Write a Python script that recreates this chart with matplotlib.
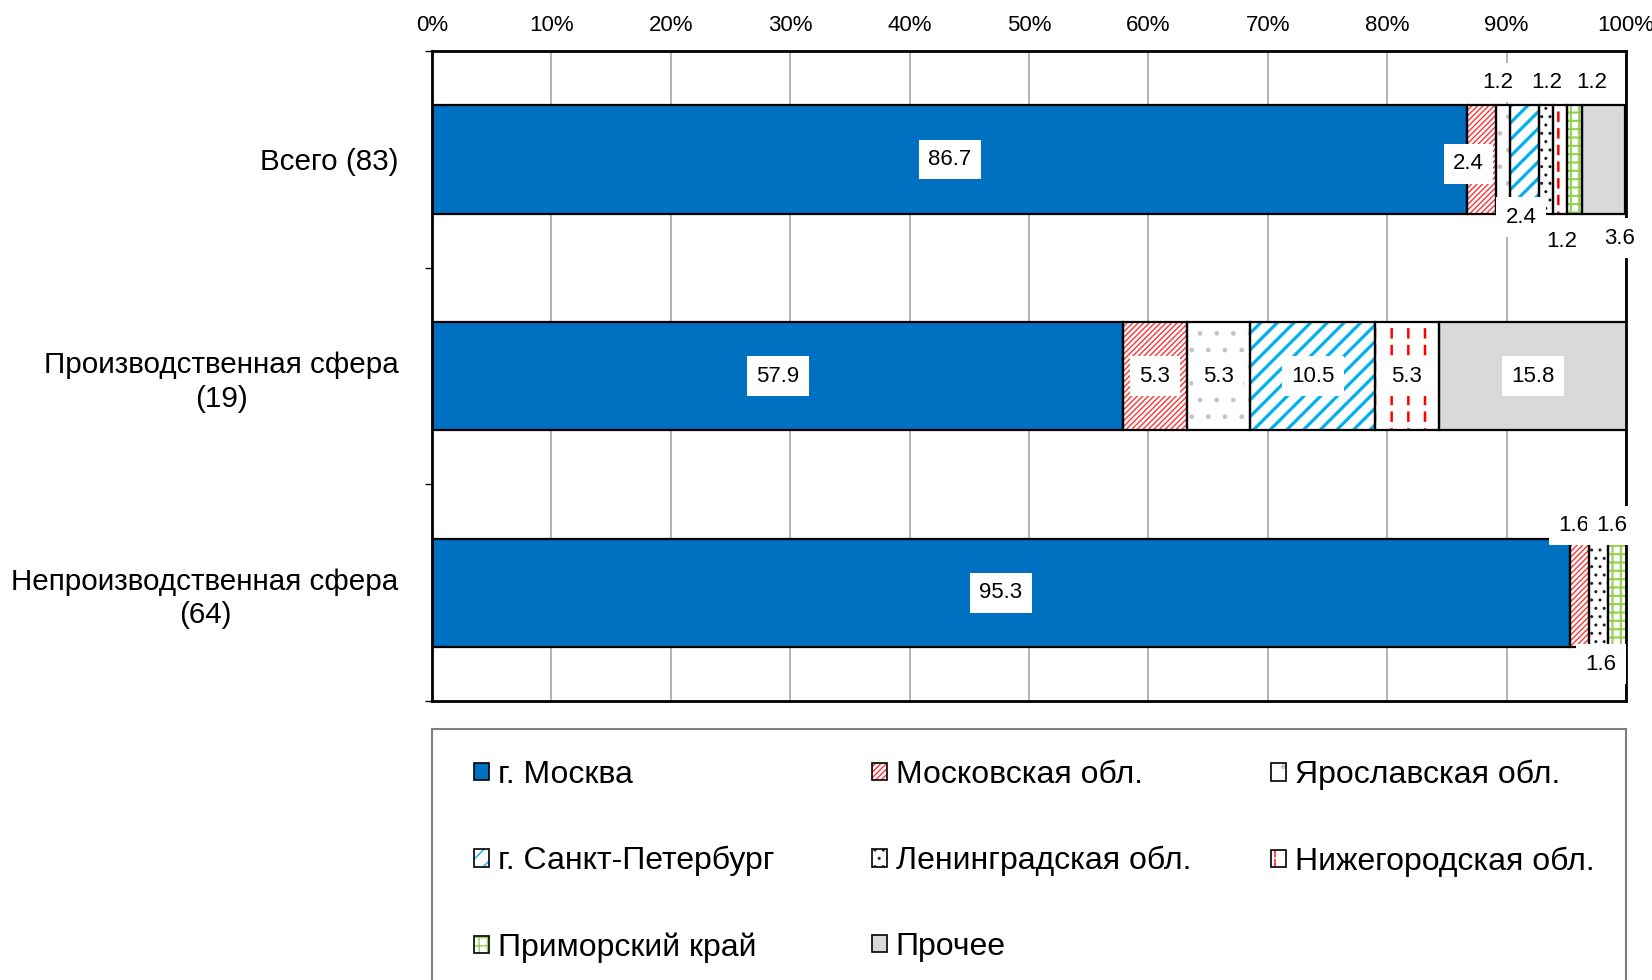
import numpy as np
import matplotlib
matplotlib.use("Agg")
import matplotlib.pyplot as plt
from matplotlib.patches import Patch, Rectangle
from matplotlib import font_manager as fm

# ---------------- data ----------------
categories = ["Всего (83)", "Производственная сфера\n(19)", "Непроизводственная сфера\n(64)"]
series_names = ["г. Москва", "Московская обл.", "Ярославская обл.", "г. Санкт-Петербург",
                "Ленинградская обл.", "Нижегородская обл.", "Приморский край", "Прочее"]
moskva = [86.7, 57.9, 95.3]
moskovskaya = [2.4, 5.3, 1.6]
yaroslavskaya = [1.2, 5.3, 0.0]
spb = [2.4, 10.5, 0.0]
leningradskaya = [1.2, 0.0, 1.6]
nizhegorodskaya = [1.2, 5.3, 0.0]
primorsky = [1.2, 0.0, 1.6]
prochee = [3.6, 15.8, 0.0]
xtick_values = [0, 10, 20, 30, 40, 50, 60, 70, 80, 90, 100]
xtick_labels = [f"{v}%" for v in xtick_values]

values = [moskva, moskovskaya, yaroslavskaya, spb, leningradskaya, nizhegorodskaya, primorsky, prochee]

# ---------------- styles ----------------
# overlay: optional white hatch drawn over the pattern (to break lines into dashes)
styles = [
    dict(face="#0070C0", hc="#0070C0", hatch=None, hlw=1.0, overlay=None),
    dict(face="white", hc="#FF3333", hatch="//////", hlw=1.0, overlay=None),
    dict(face="white", hc="#C4C4C4", hatch=".", hlw=1.0, overlay=None),
    dict(face="white", hc="#00B0F0", hatch="//", hlw=2.3, overlay=None),
    dict(face="white", hc="#202020", hatch="..", hlw=1.0, overlay=None),
    dict(face="white", hc="#FF0000", hatch="|", hlw=1.8, overlay=("-", 4.5)),
    dict(face="white", hc="#92D050", hatch="++", hlw=1.5, overlay=None),
    dict(face="#D9D9D9", hc="#D9D9D9", hatch=None, hlw=1.0, overlay=None),
]

# label offsets (category index, series index) -> (dx in %, dy in category units)
label_offsets = {
    (0, 1): (-1.1, 0.02),
    (0, 2): (-0.4, -0.354),
    (0, 3): (-0.3, 0.267),
    (0, 4): (0.1, -0.354),
    (0, 5): (0.1, 0.379),
    (0, 6): (1.4, -0.354),
    (0, 7): (1.4, 0.364),
    (2, 1): (-0.5, -0.31),
    (2, 4): (0.2, 0.33),
    (2, 6): (-0.5, -0.31),
}

avail = {f.name for f in fm.fontManager.ttflist}
main_font = "Liberation Sans" if "Liberation Sans" in avail else "DejaVu Sans"
plt.rcParams["font.family"] = [main_font, "DejaVu Sans"]


def make_patch_layers(st):
    with plt.rc_context({"hatch.linewidth": st["hlw"]}):
        hp = Patch(facecolor=st["face"], edgecolor=st["hc"], hatch=st["hatch"], linewidth=0)
        if hasattr(hp, "set_hatch_linewidth"):
            hp.set_hatch_linewidth(st["hlw"])
    layers = [hp]
    if st["overlay"] is not None:
        oh, olw = st["overlay"]
        with plt.rc_context({"hatch.linewidth": olw}):
            ov = Patch(facecolor="none", edgecolor="white", hatch=oh, linewidth=0)
            if hasattr(ov, "set_hatch_linewidth"):
                ov.set_hatch_linewidth(olw)
        layers.append(ov)
    layers.append(Patch(facecolor="none", edgecolor="black", linewidth=1.2))
    return tuple(layers)


W, H = 1652, 980
fig = plt.figure(figsize=(W / 100, H / 100), dpi=100)
ax = fig.add_axes([432 / W, 1 - 701 / H, (1626 - 432) / W, (701 - 51) / H])

y = np.arange(len(categories))
left = np.zeros(len(categories))
legend_handles = []
for si, vals in enumerate(values):
    st = styles[si]
    vals = np.array(vals, dtype=float)
    mask = vals > 0
    with plt.rc_context({"hatch.linewidth": st["hlw"]}):
        bars = ax.barh(y[mask], vals[mask], left=left[mask], height=0.5,
                       color=st["face"], edgecolor=st["hc"], hatch=st["hatch"],
                       linewidth=0, zorder=2)
        for b in bars:
            if hasattr(b, "set_hatch_linewidth"):
                b.set_hatch_linewidth(st["hlw"])
    if st["overlay"] is not None:
        oh, olw = st["overlay"]
        with plt.rc_context({"hatch.linewidth": olw}):
            obars = ax.barh(y[mask], vals[mask], left=left[mask], height=0.5,
                            facecolor="none", edgecolor="white", hatch=oh,
                            linewidth=0, zorder=2.5)
            for b in obars:
                if hasattr(b, "set_hatch_linewidth"):
                    b.set_hatch_linewidth(olw)
    ax.barh(y[mask], vals[mask], left=left[mask], height=0.5,
            facecolor="none", edgecolor="black", linewidth=1.6, zorder=3)
    for ci in np.where(mask)[0]:
        cx = left[ci] + vals[ci] / 2
        cy = y[ci]
        dx, dy = label_offsets.get((ci, si), (0, 0))
        ax.text(cx + dx, cy + dy, f"{vals[ci]:.1f}", ha="center", va="center",
                fontsize=16, zorder=5,
                bbox=dict(boxstyle="square,pad=0.42", facecolor="white", edgecolor="none"))
    left += vals
    legend_handles.append(make_patch_layers(st))

ax.set_xlim(0, 100)
ax.set_ylim(2.5, -0.5)
ax.xaxis.tick_top()
ax.set_xticks(xtick_values)
ax.set_xticklabels(xtick_labels, fontsize=16)
ax.tick_params(axis="x", length=0, pad=11)
ax.set_yticks(y)
ax.set_yticklabels(categories, fontsize=21.3)
for t in ax.get_yticklabels():
    t.set_multialignment("center")
    t.set_linespacing(1.26)
ax.tick_params(axis="y", which="major", length=0, pad=24)
ax.set_yticks([-0.5, 0.5, 1.5, 2.5], minor=True)
ax.tick_params(axis="y", which="minor", length=5, width=1, color="black")
ax.set_axisbelow(True)
ax.grid(axis="x", color="#A6A6A6", linewidth=1.2, zorder=0)
for sp in ax.spines.values():
    sp.set_linewidth(2)
    sp.set_color("black")

# legend frame
fig.patches.append(Rectangle((432 / W, -0.1), (1626 - 432) / W, (1 - 729 / H) + 0.1,
                             transform=fig.transFigure, fill=False,
                             edgecolor="#7F7F7F", linewidth=1.5))

col_x = [474, 872, 1271]
for c in range(3):
    hs = legend_handles[c::3]
    ls = series_names[c::3]
    fig.legend(hs, ls, loc="upper left", bbox_to_anchor=(col_x[c] / W, 1 - 760 / H),
               frameon=False, fontsize=23, borderpad=0, borderaxespad=0,
               handlelength=0.46, handleheight=0.46, handletextpad=0.28,
               labelspacing=1.75)

fig.savefig("out.png", dpi=100)
